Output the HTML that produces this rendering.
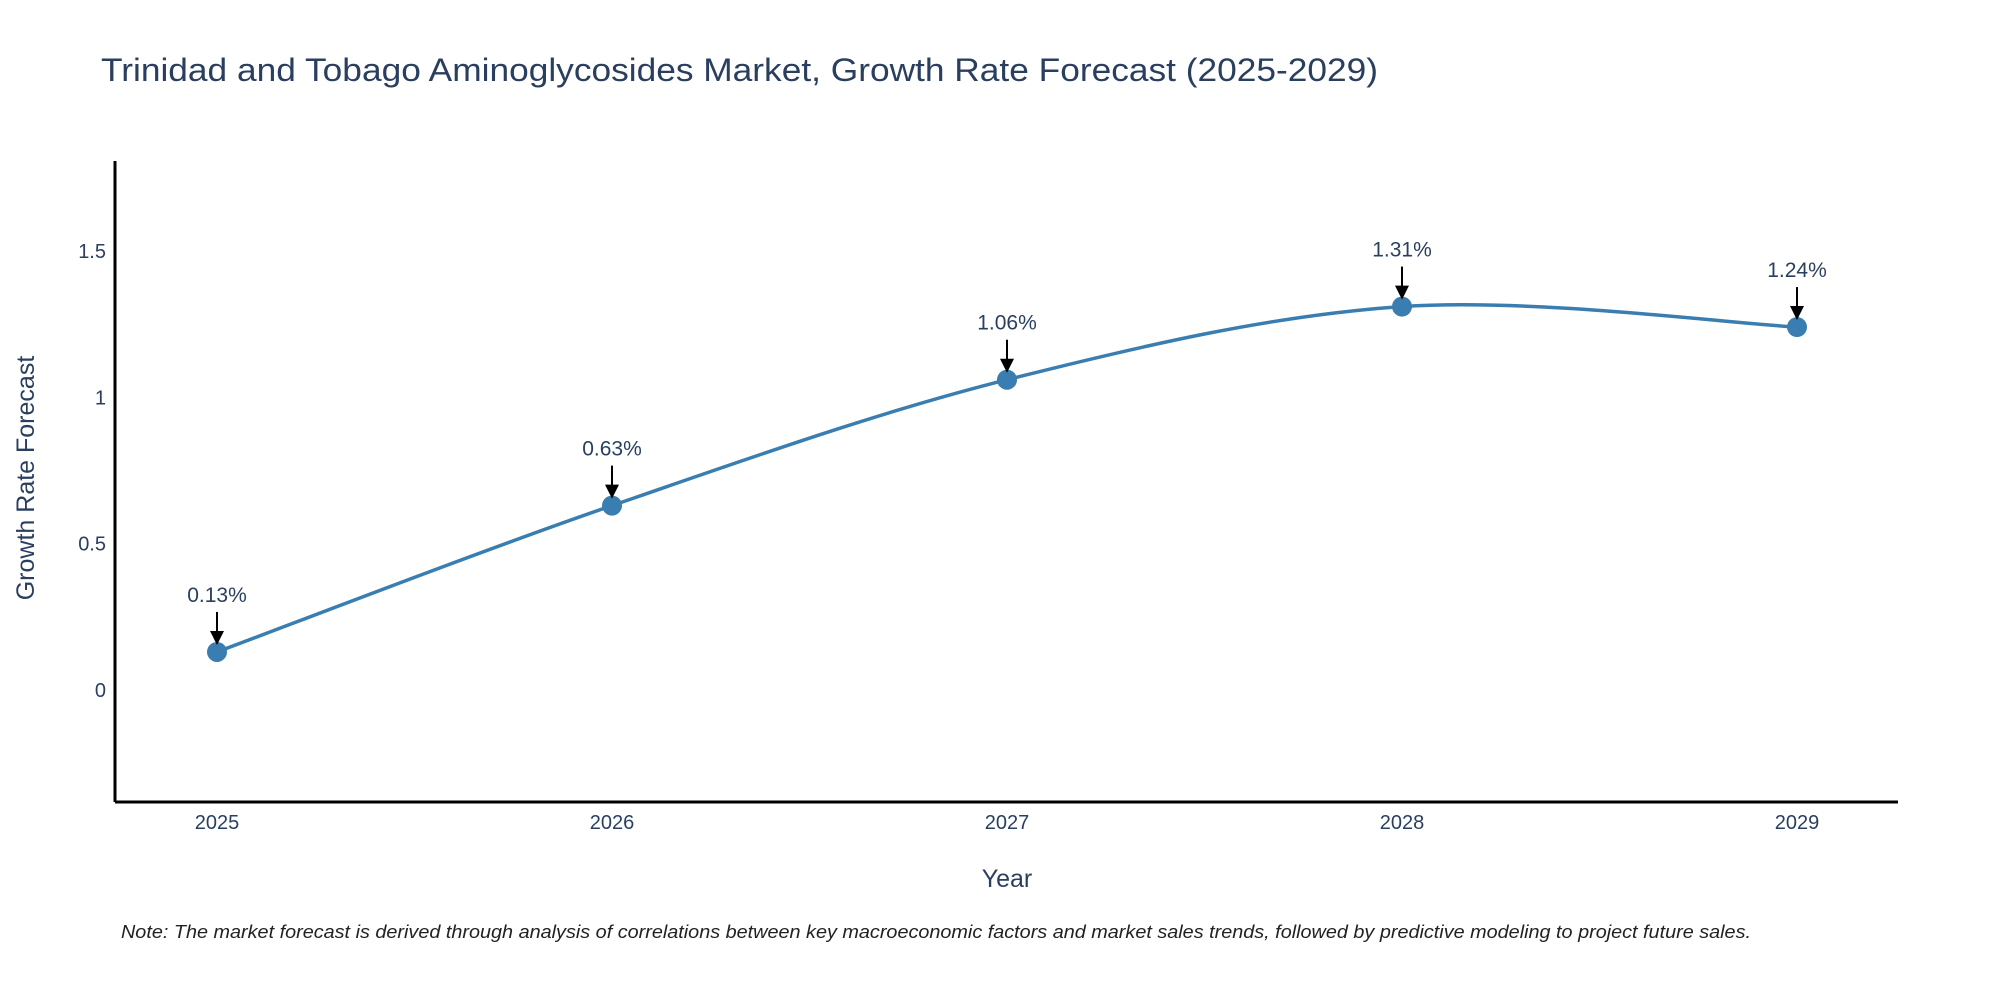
<!DOCTYPE html>
<html><head><meta charset="utf-8"><style>html,body{margin:0;padding:0;background:#fff}svg{display:block}</style></head>
<body>
<svg id="chart" width="2000" height="1000" xmlns="http://www.w3.org/2000/svg" font-family="'Liberation Sans', sans-serif">
<text x="101" y="81" font-size="32" fill="#2a3f5f" textLength="1277" lengthAdjust="spacingAndGlyphs">Trinidad and Tobago Aminoglycosides Market, Growth Rate Forecast (2025-2029)</text>
<g id="yticks"></g><g id="xticks"></g>
<line x1="115" y1="161" x2="115" y2="802" stroke="#000" stroke-width="3"/>
<line x1="115" y1="802" x2="1898" y2="802" stroke="#000" stroke-width="3"/>
<text transform="translate(34,478) rotate(-90)" text-anchor="middle" font-size="25" fill="#2a3f5f">Growth Rate Forecast</text>
<text x="1007" y="887" text-anchor="middle" font-size="25" fill="#2a3f5f">Year</text>
<text x="121" y="938" font-size="18" font-style="italic" fill="#222" textLength="1630" lengthAdjust="spacingAndGlyphs">Note: The market forecast is derived through analysis of correlations between key macroeconomic factors and market sales trends, followed by predictive modeling to project future sales.</text>
<g id="series"></g>
</svg>
<script>
const years = [2025, 2026, 2027, 2028, 2029];
const values = [0.13, 0.63, 1.06, 1.31, 1.24];
const yTicks = [0, 0.5, 1, 1.5];
const yTickLabels = ["0", "0.5", "1", "1.5"];
const NS = "http://www.w3.org/2000/svg";
function xs(yr){ return 217 + (yr - 2025) * 395; }
function ys(v){ return 690 - v * 292.7; }
function mk(tag, attrs, parent){ const e=document.createElementNS(NS,tag); for(const k in attrs) e.setAttribute(k,attrs[k]); parent.appendChild(e); return e; }
const yg=document.getElementById('yticks'), xg=document.getElementById('xticks'), sg=document.getElementById('series');
yTicks.forEach((t,i)=>{
  const el=mk('text',{x:106,y:ys(t)+7,'text-anchor':'end','font-size':20,fill:'#2a3f5f'},yg);
  el.textContent=yTickLabels[i];
  
  
});
years.forEach(yr=>{
  const el=mk('text',{x:xs(yr),y:829,'text-anchor':'middle','font-size':20,fill:'#2a3f5f'},xg);
  el.textContent=String(yr);
  
  
});
const pts=years.map((yr,i)=>[xs(yr),ys(values[i])]);
let d='M'+pts[0][0]+','+pts[0][1];
for(let i=0;i<pts.length-1;i++){
  const p0=pts[Math.max(0,i-1)],p1=pts[i],p2=pts[i+1],p3=pts[Math.min(pts.length-1,i+2)];
  const c1=[p1[0]+(p2[0]-p0[0])/6,p1[1]+(p2[1]-p0[1])/6];
  const c2=[p2[0]-(p3[0]-p1[0])/6,p2[1]-(p3[1]-p1[1])/6];
  d+=' C'+c1.join(',')+' '+c2.join(',')+' '+p2.join(',');
}
const line=mk('path',{d:d,fill:'none',stroke:'#3a7db0','stroke-width':3.5},sg);


pts.forEach((p,i)=>{
  const c=mk('circle',{cx:p[0],cy:p[1],r:10,fill:'#3a7db0'},sg);
  
  
  const a=mk('line',{x1:p[0],y1:p[1]-40,x2:p[0],y2:p[1]-20,stroke:'#000','stroke-width':2},sg);
  
  
  const h=mk('polygon',{points:(p[0]-7)+','+(p[1]-21)+' '+(p[0]+7)+','+(p[1]-21)+' '+p[0]+','+(p[1]-7),fill:'#000'},sg);
  
  
  const t=mk('text',{x:p[0],y:p[1]-50,'text-anchor':'middle','font-size':21,fill:'#2a3f5f'},sg);
  t.textContent=values[i].toFixed(2)+'%';
  
  
});
</script>
</body></html>
